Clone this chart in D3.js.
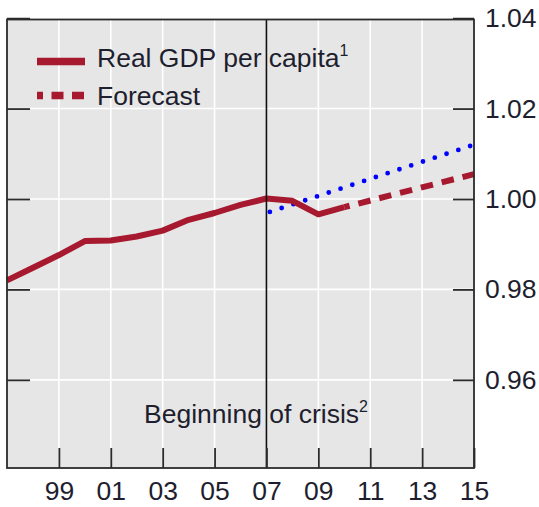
<!DOCTYPE html>
<html>
<head>
<meta charset="utf-8">
<script src="https://cdn.jsdelivr.net/npm/d3@7"></script>
<style>
	body { margin: 0; background: #fff; }
	svg text { font-family: "Liberation Sans", Arial, sans-serif; fill: #1e1e2e; }
</style>
</head>
<body>
<svg id="chart" width="539" height="507"></svg>
<script>

// real GDP per capita, index (2007 = 1)
var years = [1997, 1998, 1999, 2000, 2001, 2002, 2003, 2004, 2005, 2006, 2007, 2008, 2009, 2010];
var gdp = [0.9820, 0.9848, 0.9876, 0.9907, 0.9908, 0.9917, 0.9930, 0.9954, 0.9969, 0.9987, 1.0001, 0.9996, 0.9966, 0.9982];

var forecastYears = [2010, 2015];
var forecast = [0.9982, 1.0055];

// pre-crisis trend (blue dots)
var trendYears = [2007, 2015];
var trend = [0.9969, 1.0120];

var xTicks = [1999, 2001, 2003, 2005, 2007, 2009, 2011, 2013, 2015];
var yTicks = [0.96, 0.98, 1.00, 1.02, 1.04];
var crisisYear = 2007;

var legendLabels = ["Real GDP per capita", "Forecast"];

(function() {

	var red = "#a6192e";
	var blue = "#0000ff";
	var ink = "#2b2b2b";
	var fs = 26.5, sup = 16;

	var svg = d3.select("#chart");

	var x = d3.scaleLinear().domain([1997, 2015]).range([7, 474]);
	var y = d3.scaleLinear().domain([0.9405, 1.0397]).range([468, 19.5]);

	var x0 = x.range()[0], x1 = x.range()[1];
	var yTop = y.range()[1], yBot = y.range()[0];

	var zip = function(xs, ys) { return xs.map(function(d, i) { return [d, ys[i]]; }); };

	var line = d3.line()
		.x(function(d) { return x(d[0]); })
		.y(function(d) { return y(d[1]); });

	// panel
	svg.append("rect")
		.attr("x", x0).attr("y", yTop)
		.attr("width", x1 - x0).attr("height", yBot - yTop)
		.attr("fill", "#e6e6e6");

	// white grid
	var grid = svg.append("g").attr("class", "grid")
		.attr("stroke", "#fff").attr("stroke-width", 1.6);

	grid.selectAll(".gy")
		.data(yTicks.filter(function(d) { return y(d) > yTop + 2; }))
		.enter().append("line")
			.attr("x1", x0).attr("x2", x1)
			.attr("y1", function(d) { return y(d); })
			.attr("y2", function(d) { return y(d); });

	grid.selectAll(".gx")
		.data(xTicks.filter(function(d) { return d != crisisYear && x(d) < x1 - 2; }))
		.enter().append("line")
			.attr("y1", yTop).attr("y2", yBot)
			.attr("x1", function(d) { return x(d); })
			.attr("x2", function(d) { return x(d); });

	// crisis label
	var crisis = svg.append("text")
		.attr("x", 144)
		.attr("y", 423)
		.attr("font-size", fs)
		.text("Beginning of crisis");
	crisis.append("tspan")
		.attr("font-size", sup)
		.attr("dy", -11)
		.text("2");

	// series
	svg.append("path")
		.datum(zip(trendYears, trend))
		.attr("d", line)
		.attr("fill", "none")
		.attr("stroke", blue)
		.attr("stroke-width", 4.8)
		.attr("stroke-linecap", "round")
		.attr("stroke-dasharray", "0,12.4")
		.attr("stroke-dashoffset", 8.8);

	svg.append("path")
		.datum(zip(forecastYears, forecast))
		.attr("d", line)
		.attr("fill", "none")
		.attr("stroke", red)
		.attr("stroke-width", 6)
		.attr("stroke-dasharray", "12.5,9")
		.attr("stroke-dashoffset", 7);

	svg.append("path")
		.datum(zip(years, gdp))
		.attr("d", line)
		.attr("fill", "none")
		.attr("stroke", red)
		.attr("stroke-width", 6)
		.attr("stroke-linejoin", "round");

	// beginning of crisis
	svg.append("line")
		.attr("x1", x(crisisYear)).attr("x2", x(crisisYear))
		.attr("y1", yTop).attr("y2", yBot)
		.attr("stroke", "#111")
		.attr("stroke-width", 1.6);

	// axes, ticks pointing inwards
	var axisL = svg.append("g")
		.attr("transform", "translate(" + x0 + ",0)")
		.call(d3.axisRight(y).tickValues(yTicks).tickSize(23).tickFormat(""));

	var axisR = svg.append("g")
		.attr("transform", "translate(" + x1 + ",0)")
		.call(d3.axisRight(y).tickValues(yTicks)
			.tickSizeInner(-21).tickSizeOuter(0).tickPadding(11)
			.tickFormat(d3.format(".2f")));

	var axisB = svg.append("g")
		.attr("transform", "translate(0," + yBot + ")")
		.call(d3.axisBottom(x).tickValues(xTicks)
			.tickSizeInner(-20).tickSizeOuter(0).tickPadding(13)
			.tickFormat(function(d) { return String(d).slice(2); }));

	[axisL, axisR, axisB].forEach(function(a) {
		a.select(".domain").remove();
		a.selectAll(".tick line").attr("stroke", ink).attr("stroke-width", 1.8);
		a.selectAll("text")
			.attr("font-size", fs)
			.attr("font-family", "'Liberation Sans', Arial, sans-serif")
			.attr("fill", "#1e1e2e");
	});

	// frame
	svg.append("rect")
		.attr("x", x0).attr("y", yTop)
		.attr("width", x1 - x0).attr("height", yBot - yTop)
		.attr("fill", "none")
		.attr("stroke", ink)
		.attr("stroke-width", 1.8);

	// legend
	var legend = svg.append("g").attr("class", "legend");

	legend.append("line")
		.attr("x1", 37).attr("x2", 85)
		.attr("y1", 61.5).attr("y2", 61.5)
		.attr("stroke", red).attr("stroke-width", 7.3);

	legend.append("line")
		.attr("x1", 37).attr("x2", 85)
		.attr("y1", 95.5).attr("y2", 95.5)
		.attr("stroke", red).attr("stroke-width", 7.5)
		.attr("stroke-dasharray", "12,8.5")
		.attr("stroke-dashoffset", 6);

	var l1 = legend.append("text")
		.attr("x", 97).attr("y", 67)
		.attr("font-size", fs)
		.text(legendLabels[0]);
	l1.append("tspan")
		.attr("font-size", sup)
		.attr("dy", -11)
		.text("1");

	legend.append("text")
		.attr("x", 97).attr("y", 105)
		.attr("font-size", fs)
		.text(legendLabels[1]);

})();
</script>
</body>
</html>
